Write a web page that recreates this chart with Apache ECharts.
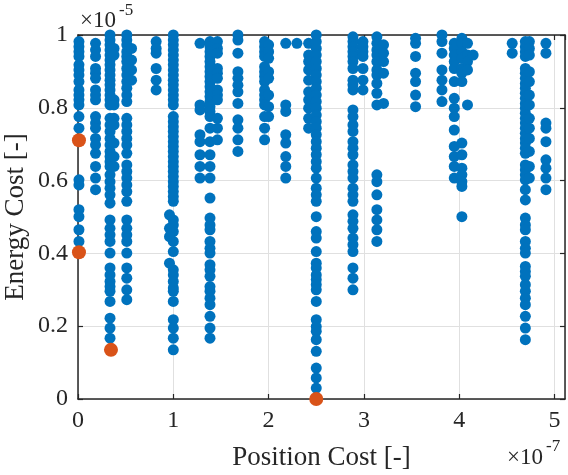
<!DOCTYPE html>
<html>
<head>
<meta charset="utf-8">
<script src="https://cdn.jsdelivr.net/npm/echarts@6/dist/echarts.min.js"></script>
<style>
  html, body { margin: 0; padding: 0; background: #fff; }
  #main { width: 568px; height: 475px; }
</style>
</head>
<body>
<div id="main"></div>
<script>
// x in units of 1e-7, y in units of 1e-5
var colX = [0.01, 0.184, 0.336, 0.378, 0.512, 0.562, 0.82, 1.0, 0.96, 1.28, 1.385, 1.463,
  1.678, 1.958, 2.0, 2.18, 2.297, 2.42, 2.5, 2.885, 2.99, 3.136, 3.206,
  3.542, 3.819, 3.948, 4.028, 4.087, 4.146, 4.556, 4.694, 4.736, 4.91];

var colY = [
  [0.982, 0.968, 0.954, 0.941, 0.918, 0.904, 0.890, 0.872, 0.849, 0.835, 0.822, 0.808, 0.776, 0.744, 0.602, 0.588, 0.520, 0.501, 0.465, 0.433],
  [0.977, 0.959, 0.941, 0.908, 0.895, 0.881, 0.849, 0.835, 0.822, 0.776, 0.758, 0.744, 0.716, 0.698, 0.675, 0.639, 0.607, 0.575],
  [1.000, 0.986, 0.973, 0.959, 0.945, 0.931, 0.918, 0.904, 0.890, 0.876, 0.863, 0.849, 0.835, 0.822, 0.808,
   0.771, 0.753, 0.735, 0.716, 0.698, 0.680, 0.666, 0.652, 0.639, 0.616, 0.597, 0.579, 0.561,
   0.538, 0.492, 0.469, 0.451, 0.433, 0.401, 0.360, 0.341, 0.323, 0.309, 0.296, 0.268, 0.222, 0.195, 0.167],
  [0.963, 0.945, 0.822, 0.808, 0.771, 0.753, 0.703, 0.666, 0.639],
  [1.000, 0.986, 0.973, 0.954, 0.941, 0.927, 0.908, 0.890, 0.872, 0.854, 0.835, 0.817, 0.771, 0.753, 0.735, 0.716, 0.698,
   0.675, 0.643, 0.625, 0.607, 0.588, 0.570, 0.543, 0.492, 0.469, 0.451, 0.433, 0.401, 0.360, 0.332, 0.300, 0.273],
  [0.963, 0.931, 0.904, 0.876],
  [0.982, 0.963, 0.950, 0.908, 0.876, 0.849],
  [1.000, 0.986, 0.973, 0.959, 0.945, 0.931, 0.918, 0.904, 0.890, 0.876, 0.863, 0.849, 0.835, 0.822, 0.808,
   0.776, 0.762, 0.748, 0.735, 0.721, 0.707, 0.694, 0.680, 0.666, 0.652, 0.639, 0.625, 0.611, 0.597, 0.584, 0.570, 0.556, 0.543,
   0.492, 0.478, 0.460, 0.433, 0.405, 0.355, 0.341, 0.323, 0.305, 0.296, 0.268, 0.218, 0.195, 0.167, 0.135],
  [0.506, 0.469, 0.446, 0.373],
  [0.977, 0.808, 0.794, 0.726, 0.707, 0.671, 0.639, 0.607],
  [0.982, 0.968, 0.954, 0.941, 0.927, 0.913, 0.899, 0.886, 0.872, 0.858, 0.844, 0.831, 0.817, 0.803, 0.790, 0.776,
   0.744, 0.707, 0.671, 0.639, 0.607, 0.552, 0.497, 0.478, 0.465, 0.433, 0.414, 0.401, 0.369, 0.355, 0.337,
   0.309, 0.296, 0.277, 0.259, 0.227, 0.195, 0.167],
  [0.982, 0.963, 0.950, 0.908, 0.895, 0.881, 0.849, 0.835, 0.822, 0.771, 0.744, 0.712],
  [1.000, 0.986, 0.950, 0.899, 0.881, 0.862, 0.844, 0.812, 0.767, 0.744, 0.712, 0.680],
  [0.982, 0.968, 0.954, 0.941, 0.913, 0.899, 0.886, 0.872, 0.849, 0.835, 0.822, 0.808, 0.776, 0.744, 0.712],
  [0.973, 0.954, 0.936, 0.899, 0.881, 0.835, 0.803, 0.776],
  [0.977, 0.808, 0.790, 0.726, 0.703, 0.666, 0.639, 0.607],
  [0.977],
  [0.977, 0.945, 0.927, 0.904, 0.876, 0.844, 0.822, 0.799, 0.771, 0.744],
  [1.000, 0.982, 0.963, 0.945, 0.927, 0.908, 0.890, 0.872, 0.854, 0.835, 0.817, 0.799, 0.780, 0.762, 0.744, 0.726, 0.707,
   0.689, 0.671, 0.652, 0.634, 0.607, 0.579, 0.561, 0.543, 0.501, 0.460, 0.442, 0.405, 0.373, 0.360, 0.341, 0.328,
   0.314, 0.300, 0.268, 0.218, 0.199, 0.186, 0.163, 0.131, 0.085, 0.058, 0.030],
  [0.995, 0.982, 0.968, 0.954, 0.941, 0.927, 0.908, 0.876, 0.863, 0.849, 0.794, 0.776, 0.753, 0.735, 0.707, 0.689,
   0.671, 0.643, 0.625, 0.607, 0.579, 0.561, 0.543, 0.506, 0.488, 0.469, 0.442, 0.424, 0.405, 0.360, 0.332, 0.300],
  [0.982, 0.968, 0.954, 0.941, 0.908, 0.876, 0.849],
  [0.995, 0.977, 0.959, 0.945, 0.927, 0.904, 0.890, 0.867, 0.840, 0.808, 0.616, 0.597, 0.561, 0.520, 0.492, 0.465, 0.433],
  [0.973, 0.950, 0.927, 0.895, 0.812],
  [0.991, 0.977, 0.941, 0.895, 0.872, 0.835, 0.803],
  [1.000, 0.982, 0.950, 0.904, 0.876, 0.849, 0.817],
  [0.977, 0.963, 0.945, 0.927, 0.908, 0.872, 0.826, 0.799, 0.776, 0.739, 0.694, 0.666, 0.639, 0.607],
  [0.991, 0.977, 0.954, 0.936, 0.908, 0.895, 0.872, 0.703, 0.671, 0.634, 0.616, 0.597, 0.584, 0.501],
  [0.977, 0.945, 0.927, 0.904, 0.808],
  [0.945],
  [0.977, 0.950],
  [0.982, 0.968, 0.954, 0.941, 0.908, 0.895, 0.881, 0.867, 0.854, 0.840, 0.826, 0.812, 0.799, 0.785, 0.771, 0.758,
   0.744, 0.730, 0.716, 0.703, 0.689, 0.675, 0.643, 0.630, 0.616, 0.602, 0.575, 0.547, 0.497, 0.478, 0.465, 0.433,
   0.414, 0.401, 0.364, 0.350, 0.337, 0.314, 0.296, 0.277, 0.259, 0.227, 0.195, 0.163],
  [0.982, 0.963, 0.945, 0.899, 0.872, 0.835, 0.808, 0.771, 0.744, 0.716, 0.680, 0.639, 0.607],
  [0.977, 0.950, 0.758, 0.744, 0.707, 0.657, 0.634, 0.607, 0.575]
];

// highlighted points
var orangeX = [0.01, 0.01, 0.346, 2.5];
var orangeY = [0.711, 0.403, 0.135, 0.0];

var xMax = 5.11;
var yMax = 1.0;

var font = 'Liberation Serif';
var ink = '#262626';

var blueData = [];
colX.forEach(function (x, i) {
  colY[i].forEach(function (y) { blueData.push([x, y]); });
});
var orangeData = orangeX.map(function (x, i) { return [x, orangeY[i]]; });

function axisBase(extra) {
  var a = {
    type: 'value',
    min: 0,
    axisLine: { show: true, onZero: false, lineStyle: { color: ink, width: 1.5 } },
    axisTick: { show: true, inside: true, length: 5, lineStyle: { color: ink, width: 1.2 } },
    axisLabel: { show: false },
    splitLine: { show: false }
  };
  return Object.assign(a, extra);
}

var chart = echarts.init(document.getElementById('main'));
chart.setOption({
  animation: false,
  backgroundColor: '#fff',
  grid: { left: 78, right: 3, top: 35, bottom: 76, containLabel: false, outerBoundsMode: 'none' },
  xAxis: [
    axisBase({
      position: 'bottom', max: xMax, interval: 1,
      name: 'Position Cost [-]', nameLocation: 'middle', nameGap: 45, nameMoveOverlap: false,
      nameTextStyle: { fontFamily: font, fontSize: 27, color: ink },
      axisLabel: { show: true, margin: 10, fontFamily: font, fontSize: 24, color: ink, showMaxLabel: false },
      splitLine: { show: true, lineStyle: { color: '#e0e0e0', width: 1 } }
    }),
    axisBase({ position: 'top', max: xMax, interval: 1 })
  ],
  yAxis: [
    axisBase({
      position: 'left', max: yMax, interval: 0.2,
      name: 'Energy Cost [-]', nameLocation: 'middle', nameGap: 49, nameMoveOverlap: false,
      nameTextStyle: { fontFamily: font, fontSize: 27, color: ink },
      axisLabel: { show: true, margin: 10, fontFamily: font, fontSize: 24, color: ink },
      splitLine: { show: true, lineStyle: { color: '#e0e0e0', width: 1 } }
    }),
    axisBase({ position: 'right', max: yMax, interval: 0.2 })
  ],
  graphic: [
    { type: 'text', left: 80, top: 9, style: { text: '×10', fontFamily: font, fontSize: 23, fill: ink } },
    { type: 'text', left: 119, top: 2, style: { text: '-5', fontFamily: font, fontSize: 17, fill: ink } },
    { type: 'text', left: 507, top: 446, style: { text: '×10', fontFamily: font, fontSize: 23, fill: ink } },
    { type: 'text', left: 546, top: 438, style: { text: '-7', fontFamily: font, fontSize: 17, fill: ink } }
  ],
  series: [
    {
      type: 'scatter', xAxisIndex: 0, yAxisIndex: 0, clip: false,
      symbol: 'circle', symbolSize: 11,
      itemStyle: { color: '#0072BD', opacity: 1 },
      data: blueData, z: 3
    },
    {
      type: 'scatter', xAxisIndex: 0, yAxisIndex: 0, clip: false,
      symbol: 'circle', symbolSize: 14,
      itemStyle: { color: '#D95319', opacity: 1 },
      data: orangeData, z: 4
    }
  ]
});
</script>
</body>
</html>
